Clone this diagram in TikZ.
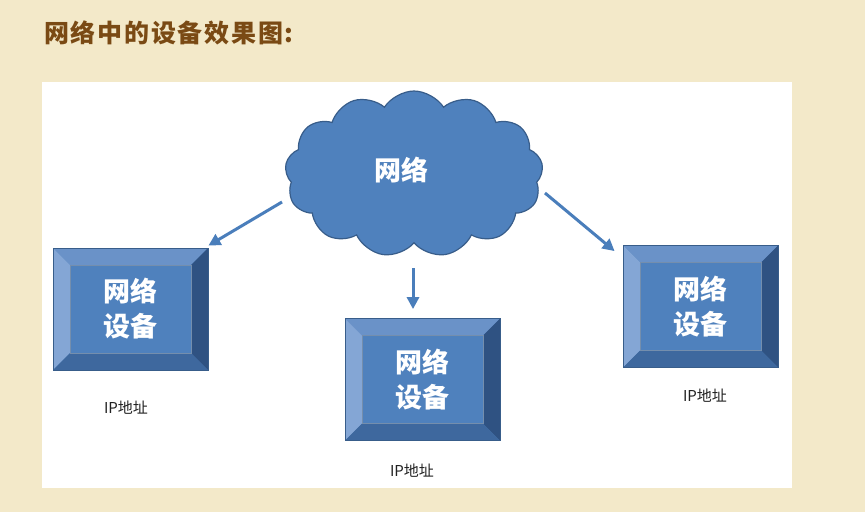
\documentclass[tikz,border=0pt]{standalone}
\usepackage{fontspec}
\newfontfamily\cjk{Noto Sans CJK SC}
\newfontfamily\cjktitle{Noto Sans CJK SC}[LetterSpace=7]
\usetikzlibrary{shapes.symbols,arrows.meta,calc}
\definecolor{bgcream}{HTML}{F3E9C9}
\definecolor{titlebrown}{HTML}{7A4A14}
\definecolor{face}{HTML}{4F81BD}
\definecolor{bvleft}{HTML}{84A6D5}
\definecolor{bvtop}{HTML}{6A92C8}
\definecolor{bvright}{HTML}{2F5282}
\definecolor{bvbottom}{HTML}{3E689E}
\definecolor{boxline}{HTML}{385D8A}
\definecolor{arrowblue}{HTML}{4A7EBB}
\definecolor{iptext}{HTML}{222222}
\def\bv{17pt}
\tikzset{
  bevelbox/.style={minimum width=155pt, minimum height=122pt, inner sep=0pt,
    draw=boxline, line width=0.8pt, align=center, text=white,
    font=\cjk\bfseries\fontsize{27}{35}\selectfont,
    path picture={
      \coordinate (NW) at (path picture bounding box.north west);
      \coordinate (NE) at (path picture bounding box.north east);
      \coordinate (SW) at (path picture bounding box.south west);
      \coordinate (SE) at (path picture bounding box.south east);
      \fill[face] (NW) rectangle (SE);
      \fill[bvtop] (NW) -- (NE) -- ([xshift=-\bv,yshift=-\bv]NE) -- ([xshift=\bv,yshift=-\bv]NW) -- cycle;
      \fill[bvleft] (NW) -- ([xshift=\bv,yshift=-\bv]NW) -- ([xshift=\bv,yshift=\bv]SW) -- (SW) -- cycle;
      \fill[bvright] (NE) -- (SE) -- ([xshift=-\bv,yshift=\bv]SE) -- ([xshift=-\bv,yshift=-\bv]NE) -- cycle;
      \fill[bvbottom] (SW) -- ([xshift=\bv,yshift=\bv]SW) -- ([xshift=-\bv,yshift=\bv]SE) -- (SE) -- cycle;
      \draw[boxline!70, line width=0.4pt] ([xshift=\bv,yshift=-\bv]NW) rectangle ([xshift=-\bv,yshift=\bv]SE);
    }},
  iplabel/.style={font=\cjk\fontsize{15}{18}\selectfont, text=iptext, inner sep=0pt},
  conn/.style={draw=arrowblue, line width=3pt, -{Triangle[length=12pt,width=12pt]}},
  netcloud/.style={cloud, cloud puffs=13, cloud puff arc=115, aspect=1.56,
    minimum width=258pt, minimum height=166pt, inner sep=0pt,
    fill=face, draw=boxline, line width=1.2pt}
}
\begin{document}
\begin{tikzpicture}[x=1pt,y=-1pt]
\fill[bgcream] (0,0) rectangle (865,512);
\useasboundingbox (0,0) rectangle (865,512);
\fill[white] (42,82) rectangle (792,488);
\node[anchor=base west, inner sep=0pt, text=titlebrown,
  font=\cjktitle\bfseries\fontsize{25}{30}\selectfont] (title) at (44,42) {网络中的设备效果图:};

\node[netcloud] (net) at (414,174) {};
\node[font=\cjk\bfseries\fontsize{27}{32}\selectfont, text=white] (netlabel) at (401,170) {网络};

\node[bevelbox] (box1) at (130.5,309) {网络\\设备};
\node[bevelbox] (box2) at (422.5,379.5) {网络\\设备};
\node[bevelbox] (box3) at (700.5,306.5) {网络\\设备};

\node[iplabel] (ip1) at (126,408) {IP地址};
\node[iplabel] (ip2) at (412,471) {IP地址};
\node[iplabel] (ip3) at (705,396) {IP地址};

\coordinate (s1) at (282,202);
\coordinate (s2) at (413,268);
\coordinate (s3) at (545,193);
\draw[conn] (s1) -- ($(box1.north east)+(0,-2)$);
\draw[conn] (s2) -- ($(box2.north)+(-9.5,-9)$);
\draw[conn] (s3) -- ($(box3.north west)+(-8,6)$);
\end{tikzpicture}
\end{document}
